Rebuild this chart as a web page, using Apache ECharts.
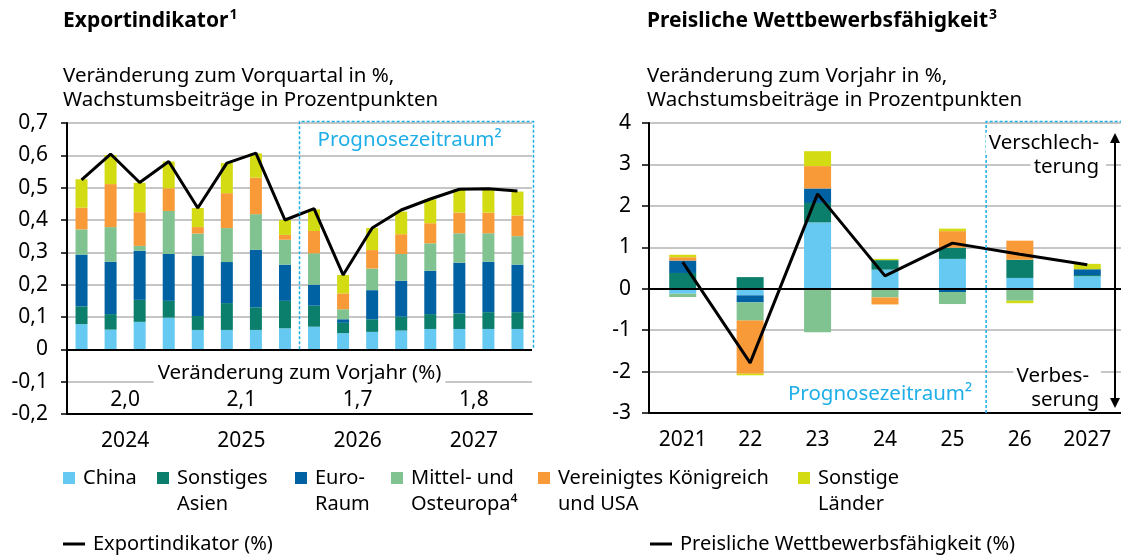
<!DOCTYPE html>
<html>
<head>
<meta charset="utf-8">
<title>Exportindikator und preisliche Wettbewerbsfähigkeit</title>
<script src="https://cdn.jsdelivr.net/npm/echarts@6/dist/echarts.min.js"></script>
<style>
  html, body { margin: 0; padding: 0; background: #fff; }
  #main { width: 1121px; height: 555px; }
</style>
</head>
<body>
<div id="main"></div>
<script>
// Exportindikator: Quartale 2024-2027
var quartale = ['24Q1','24Q2','24Q3','24Q4','25Q1','25Q2','25Q3','25Q4','26Q1','26Q2','26Q3','26Q4','27Q1','27Q2','27Q3','27Q4'];
var jahre = ['2024','2025','2026','2027'];
var vorjahr = [2.0, 2.1, 1.7, 1.8];   // Veränderung zum Vorjahr (%)

var exChina   = [0.078,0.061,0.085,0.098,0.060,0.060,0.060,0.065,0.070,0.050,0.054,0.058,0.063,0.063,0.063,0.063];
var exAsien   = [0.055,0.048,0.068,0.052,0.043,0.083,0.070,0.085,0.065,0.032,0.039,0.043,0.046,0.048,0.052,0.052];
var exEuro    = [0.160,0.162,0.152,0.145,0.187,0.127,0.178,0.112,0.065,0.011,0.090,0.111,0.134,0.157,0.156,0.147];
var exMOE     = [0.078,0.107,0.015,0.133,0.068,0.105,0.110,0.077,0.097,0.031,0.067,0.083,0.085,0.091,0.088,0.088];
var exUK      = [0.067,0.133,0.104,0.070,0.020,0.108,0.113,0.015,0.069,0.049,0.057,0.061,0.062,0.064,0.064,0.064];
var exSonst   = [0.088,0.090,0.091,0.083,0.059,0.093,0.075,0.046,0.067,0.057,0.068,0.070,0.074,0.072,0.074,0.074];
var exIndikator = [0.524,0.604,0.516,0.581,0.437,0.576,0.607,0.400,0.435,0.230,0.375,0.431,0.465,0.495,0.497,0.490];

// Preisliche Wettbewerbsfähigkeit: Jahre
var pwJahre = ['2021','22','23','24','25','26','2027'];
var pwChina = [-0.12,-0.16,1.60,0.46,0.72,0.26,0.30];
var pwAsien = [0.38,0.28,0.47,0.23,0.27,0.44,0.03];
var pwEuro  = [0.30,-0.17,0.35,-0.03,-0.08,0,0.14];
var pwMOE   = [-0.08,-0.44,-1.05,-0.18,-0.29,-0.29,0];
var pwUK    = [0.08,-1.28,0.54,-0.17,0.40,0.46,0];
var pwSonst = [0.06,-0.04,0.36,0.03,0.06,-0.06,0.13];
var pwIndikator = [0.64,-1.79,2.29,0.31,1.10,0.83,0.58];

var namen = ['China','Sonstiges Asien','Euro-Raum','Mittel- und Osteuropa','Vereinigtes Königreich und USA','Sonstige Länder'];
var farben = ['#66C9F2','#0B7F6C','#0062A3','#80C391','#F99A38','#D3DB13'];

var FONT = 'Noto Sans';
var GRAU = '#C6C6C6';
var CYAN = '#1EAEE8';

function komma(v) {
  var r = Math.round(v * 10) / 10;
  if (r === 0) return '0';
  return r.toFixed(1).replace('.', ',');
}

var chart = echarts.init(document.getElementById('main'));

var serien = [];
var exDaten = [exChina, exAsien, exEuro, exMOE, exUK, exSonst];
var pwDaten = [pwChina, pwAsien, pwEuro, pwMOE, pwUK, pwSonst];
for (var i = 0; i < namen.length; i++) {
  serien.push({
    name: namen[i], type: 'bar', stack: 'links', xAxisIndex: 0, yAxisIndex: 0,
    barWidth: 12, itemStyle: { color: farben[i] }, data: exDaten[i]
  });
}
serien.push({
  name: 'Exportindikator (%)', type: 'line', xAxisIndex: 0, yAxisIndex: 0,
  symbol: 'none', z: 5, lineStyle: { color: '#000', width: 3 }, itemStyle: { color: '#000' },
  data: exIndikator,
  markLine: { silent: true, symbol: 'none', label: { show: false },
    lineStyle: { color: '#000', width: 2, type: 'solid' }, data: [{ yAxis: 0 }] }
});
serien.push({
  name: 'vorjahr', type: 'scatter', xAxisIndex: 1, yAxisIndex: 0, symbolSize: 0, silent: true,
  itemStyle: { opacity: 1 },
  data: vorjahr.map(function (v, k) { return [k, -0.158]; }),
  label: { show: true, position: 'inside', color: '#000', fontFamily: FONT, fontSize: 21,
    formatter: function (p) { return komma(vorjahr[p.dataIndex]); } }
});
for (var j = 0; j < namen.length; j++) {
  serien.push({
    name: namen[j], type: 'bar', stack: 'rechts', xAxisIndex: 2, yAxisIndex: 1,
    barWidth: 27, itemStyle: { color: farben[j] }, data: pwDaten[j]
  });
}
serien.push({
  name: 'Preisliche Wettbewerbsfähigkeit (%)', type: 'line', xAxisIndex: 2, yAxisIndex: 1,
  symbol: 'none', z: 5, lineStyle: { color: '#000', width: 3 }, itemStyle: { color: '#000' },
  data: pwIndikator,
  markLine: { silent: true, symbol: 'none', label: { show: false },
    lineStyle: { color: '#000', width: 2, type: 'solid' }, data: [{ yAxis: 0 }] }
});

// zweizeilige Einträge: Leerzeile vorne, damit die erste Zeile neben dem Kästchen steht
function legende(name, text, left, zweizeilig) {
  return {
    data: [name], left: left, top: zweizeilig ? 439 : 465, padding: 0,
    icon: 'rect', itemWidth: 12, itemHeight: 12, selectedMode: false,
    formatter: zweizeilig ? '\n' + text : text,
    textStyle: { fontFamily: FONT, fontSize: 20, lineHeight: 26, color: '#000', padding: [0, 0, 0, 3] }
  };
}
function linienLegende(name, left) {
  return {
    data: [name], left: left, top: 531, padding: 0,
    icon: 'rect', itemWidth: 22, itemHeight: 3, selectedMode: false,
    textStyle: { fontFamily: FONT, fontSize: 20, lineHeight: 26, color: '#000', padding: [0, 0, 0, 3] }
  };
}

var achsenText = { color: '#000', fontFamily: FONT, fontSize: 21 };
var titelRich = {
  b: { fontFamily: FONT, fontSize: 21, fontWeight: 'bold', color: '#000', lineHeight: 26 },
  s: { fontFamily: FONT, fontSize: 14, fontWeight: 'bold', color: '#000', verticalAlign: 'top', lineHeight: 26, padding: [0, 0, 0, 1] }
};

var option = {
  animation: false,
  textStyle: { fontFamily: FONT },
  title: [
    { text: '{b|Exportindikator}{s|1}', left: 63, top: 8, padding: 0,
      textStyle: { rich: titelRich } },
    { text: 'Veränderung zum Vorquartal in %,\nWachstumsbeiträge in Prozentpunkten', left: 63, top: 64, padding: 0,
      textStyle: { fontFamily: FONT, fontSize: 20.5, fontWeight: 'normal', lineHeight: 24, color: '#000' } },
    { text: '{b|Preisliche Wettbewerbsfähigkeit}{s|3}', left: 647, top: 8, padding: 0,
      textStyle: { rich: titelRich } },
    { text: 'Veränderung zum Vorjahr in %,\nWachstumsbeiträge in Prozentpunkten', left: 647, top: 64, padding: 0,
      textStyle: { fontFamily: FONT, fontSize: 20.5, fontWeight: 'normal', lineHeight: 24, color: '#000' } }
  ],
  legend: [
    legende('China', 'China', 63, false),
    legende('Sonstiges Asien', 'Sonstiges\nAsien', 157, true),
    legende('Euro-Raum', 'Euro-\nRaum', 295, true),
    legende('Mittel- und Osteuropa', 'Mittel- und\nOsteuropa⁴', 391, true),
    legende('Vereinigtes Königreich und USA', 'Vereinigtes Königreich\nund USA', 538, true),
    legende('Sonstige Länder', 'Sonstige\nLänder', 798, true),
    linienLegende('Exportindikator (%)', 63),
    linienLegende('Preisliche Wettbewerbsfähigkeit (%)', 650)
  ],
  grid: [
    { left: 67, right: 589, top: 123, bottom: 141 },
    { left: 649, right: -6, top: 123, bottom: 142 }
  ],
  xAxis: [
    { type: 'category', gridIndex: 0, data: quartale, position: 'bottom',
      axisLine: { onZero: false, lineStyle: { color: '#000', width: 2 } },
      axisTick: { length: 6, lineStyle: { color: '#000', width: 1.5 } },
      axisLabel: { show: false }, splitLine: { show: false } },
    { type: 'category', gridIndex: 0, data: jahre, position: 'bottom',
      axisLine: { show: false, onZero: false },
      axisTick: { length: 22, lineStyle: { color: '#000', width: 1.5 } },
      axisLabel: Object.assign({ margin: 17 }, achsenText), splitLine: { show: false } },
    { type: 'category', gridIndex: 1, data: pwJahre, position: 'bottom',
      axisLine: { onZero: false, lineStyle: { color: '#000', width: 2 } },
      axisTick: { length: 6, lineStyle: { color: '#000', width: 1.5 } },
      axisLabel: Object.assign({ margin: 17 }, achsenText), splitLine: { show: false } }
  ],
  yAxis: [
    { type: 'value', gridIndex: 0, min: -0.2, max: 0.7, interval: 0.1,
      axisLine: { show: true, lineStyle: { color: '#000', width: 2 } },
      axisTick: { show: true, length: 6, lineStyle: { color: '#000', width: 1.5 } },
      axisLabel: Object.assign({ margin: 19, formatter: komma }, achsenText),
      splitLine: { lineStyle: { color: GRAU, width: 2 } } },
    { type: 'value', gridIndex: 1, min: -3, max: 4, interval: 1,
      axisLine: { show: true, lineStyle: { color: '#000', width: 2 } },
      axisTick: { show: true, length: 7, lineStyle: { color: '#000', width: 1.5 } },
      axisLabel: Object.assign({ margin: 18 }, achsenText),
      splitLine: { lineStyle: { color: GRAU, width: 2 } } }
  ],
  series: serien
};

chart.setOption(option);

// Prognosezeitraum-Rahmen und Beschriftungen an den Achsen ausrichten
var xl = (chart.convertToPixel({ xAxisIndex: 0 }, 7) + chart.convertToPixel({ xAxisIndex: 0 }, 8)) / 2;
var xlEnde = chart.convertToPixel({ xAxisIndex: 0 }, 15) + 16;
var yl0 = chart.convertToPixel({ yAxisIndex: 0 }, 0);
var ylTop = chart.convertToPixel({ yAxisIndex: 0 }, 0.7) - 1.5;
var ylText = chart.convertToPixel({ yAxisIndex: 0 }, -0.075);
var xlMitte = (chart.convertToPixel({ xAxisIndex: 1 }, 1) + chart.convertToPixel({ xAxisIndex: 1 }, 2)) / 2;

var xr = (chart.convertToPixel({ xAxisIndex: 2 }, 4) + chart.convertToPixel({ xAxisIndex: 2 }, 5)) / 2;
var yrTop = chart.convertToPixel({ yAxisIndex: 1 }, 4) - 1.5;
var yrUnten = chart.convertToPixel({ yAxisIndex: 1 }, -3);
var yrText = chart.convertToPixel({ yAxisIndex: 1 }, -2.55);
var xPfeil = 1115;

var gestrichelt = { stroke: CYAN, lineWidth: 1.5, lineDash: [3, 2], fill: null };
var txt = function (text, x, y, align, farbe, hg, pad) {
  return { type: 'text', z: 10, style: { text: text, x: x, y: y, align: align, verticalAlign: 'middle',
    font: '20.5px "Noto Sans"', fill: farbe || '#000', backgroundColor: hg || null, padding: pad || 0 } };
};

chart.setOption({
  graphic: [
    { type: 'polyline', z: 9, shape: { points: [[xl, yl0], [xl, ylTop], [xlEnde, ylTop], [xlEnde, yl0]] }, style: gestrichelt },
    txt('Prognosezeitraum²', xl + 18, 140, 'left', CYAN),
    txt('Veränderung zum Vorjahr (%)', xlMitte, ylText, 'center', '#000', '#fff', [0, 4]),
    { type: 'polyline', z: 9, shape: { points: [[xr, yrUnten], [xr, yrTop], [1130, yrTop]] }, style: gestrichelt },
    txt('Prognosezeitraum²', xr - 14, yrText, 'right', CYAN),
    txt('Verschlech-', 1106, 143, 'right', '#000', '#fff', [0, 7, 0, 3]),
    txt('terung', 1106, 167, 'right', '#000', '#fff', [0, 7, 0, 3]),
    txt('Verbes-', 1101, 376, 'right', '#000', '#fff', [0, 12, 0, 3]),
    txt('serung', 1106, 400, 'right', '#000', '#fff', [0, 7, 0, 3]),
    { type: 'line', z: 11, shape: { x1: xPfeil, y1: 140, x2: xPfeil, y2: 401 }, style: { stroke: '#000', lineWidth: 2 } },
    { type: 'polygon', z: 11, shape: { points: [[xPfeil, 133], [xPfeil - 5, 143], [xPfeil + 5, 143]] }, style: { fill: '#000' } },
    { type: 'polygon', z: 11, shape: { points: [[xPfeil, 408], [xPfeil - 5, 398], [xPfeil + 5, 398]] }, style: { fill: '#000' } }
  ]
});
</script>
</body>
</html>
